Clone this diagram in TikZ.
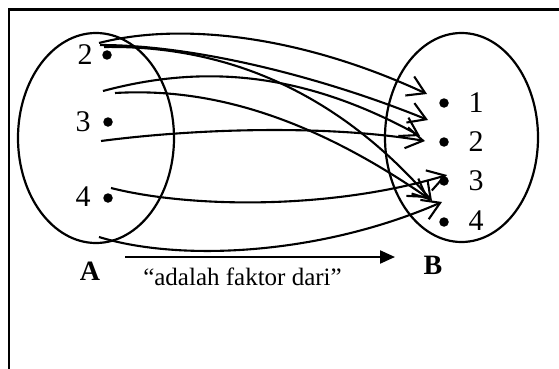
\documentclass[tikz,border=0pt]{standalone}
\usepackage{fontspec}
\setmainfont{Liberation Serif}
\usetikzlibrary{arrows.meta,shapes.geometric}
\begin{document}
\begin{tikzpicture}[x=1pt,y=-1pt,
  rel/.style={line width=2.1pt,-{Straight Barb[length=17pt,width=21pt]}},
  dot/.style={circle,fill=black,inner sep=0pt,minimum size=9.5pt},
  num/.style={inner sep=0pt,font=\fontsize{30}{32}\selectfont},
  setlab/.style={inner sep=0pt,font=\fontsize{28}{30}\selectfont\bfseries},
  setshape/.style={draw,ellipse,line width=2.2pt,inner sep=0pt}]
\useasboundingbox (0,0) rectangle (559,369);
% frame
\draw[line width=2.6pt] (9,369) -- (9,9.5) -- (559,9.5);
% sets
\node[setshape,minimum width=156pt,minimum height=210pt] (setA) at (96,138) {};
\node[setshape,minimum width=153pt,minimum height=209pt] (setB) at (461.5,137.5) {};
% elements of A
\node[dot] (a2) at (107,55) {};
\node[dot] (a3) at (108,122) {};
\node[dot] (a4) at (108,198) {};
\node[num] (la2) at (85,55) {2};
\node[num] (la3) at (83,122) {3};
\node[num] (la4) at (83,197) {4};
% elements of B
\node[dot] (b1) at (444,103) {};
\node[dot] (b2) at (444,142) {};
\node[dot] (b3) at (444,181) {};
\node[dot] (b4) at (444,222) {};
\node[num] (lb1) at (476,103) {1};
\node[num] (lb2) at (476,142) {2};
\node[num] (lb3) at (476,181) {3};
\node[num] (lb4) at (476,221) {4};
% set labels
\node[setlab] (labA) at (90,271) {A};
\node[setlab] (labB) at (433,265) {B};
% relation arrow
\coordinate (relS) at (125,257);
\coordinate (relE) at (395,257);
\draw[line width=2.2pt,-{Triangle[length=15pt,width=13pt]}] (relS) -- (relE);
\node[inner sep=0pt,anchor=base,font=\fontsize{25}{28}\selectfont] (reltext) at (242.5,285) {“adalah faktor dari”};
% start points
\coordinate (s2a) at (99,43);
\coordinate (s2b) at (100,45);
\coordinate (s2c) at (104,47);
\coordinate (s3a) at (103,91);
\coordinate (s3b) at (115,93);
\coordinate (s3c) at (101,141);
\coordinate (s4a) at (111,188);
\coordinate (sA) at (99,237);
% tips
\coordinate (t1) at (427,94);
\coordinate (t12) at (428,120);
\coordinate (t2a) at (420,136);
\coordinate (t2b) at (425,141);
\coordinate (t3) at (447,175);
\coordinate (t4a) at (428,198);
\coordinate (t4b) at (432,201);
\coordinate (t4c) at (442,202);
% connectors
\draw[rel] (s2a) .. controls (180,22) and (300,35) .. (t1);
\draw[rel] (s2b) .. controls (200,45) and (330,80) .. (t12);
\draw[rel] (s2c) .. controls (230,45) and (340,95) .. (t4b);
\draw[rel] (s3a) .. controls (200,65) and (300,70) .. (t2a);
\draw[rel] (s3b) .. controls (200,88) and (300,110) .. (t4a);
\draw[rel] (s3c) .. controls (200,128) and (330,125) .. (t2b);
\draw[rel] (s4a) .. controls (190,208) and (330,210) .. (t3);
\draw[rel] (sA) .. controls (180,262) and (320,255) .. (t4c);
\end{tikzpicture}
\end{document}
